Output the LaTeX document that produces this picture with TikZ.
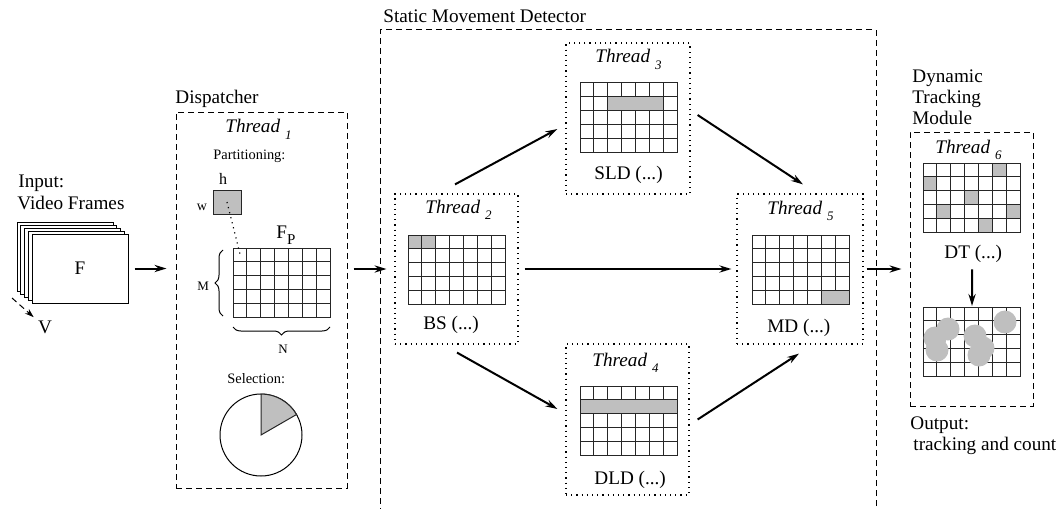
\documentclass[tikz,border=0pt]{standalone}
\usepackage{fontspec}
\setmainfont{Liberation Serif}
\usetikzlibrary{arrows.meta,calc,decorations.pathreplacing}
\definecolor{cellgray}{gray}{0.75}

\newcommand{\threadlabel}[1]{\textit{Thread}~\raisebox{-3pt}{\fontsize{6.5}{7}\selectfont\itshape #1}}
\newcommand{\cellgrid}[2]{%
  \begin{scope}[shift={(#1,#2)}, x=6.93pt, y=-6.9pt]
    \foreach \c in {1,...,6} \draw[gridline] (\c,0) -- (\c,5);
    \foreach \r in {1,...,4} \draw[gridline] (0,\r) -- (7,\r);
    \draw[gridline] (0,0) rectangle (7,5);
  \end{scope}}
\newcommand{\cellshade}[3]{%
  \begin{scope}[shift={(#1,#2)}, x=6.93pt, y=-6.9pt]
    \foreach \cA/\cB/\r in {#3}
      \filldraw[gridline, fill=cellgray] (\cA-1,\r-1) rectangle (\cB,\r);
  \end{scope}}

\begin{document}
\begin{tikzpicture}[
    x=0.5pt, y=-0.5pt,
    every node/.style = { inner sep=0pt, font=\fontsize{9.6}{11}\selectfont },
    module/.style = { draw, dash pattern=on 3pt off 2pt, line width=0.5pt },
    worker/.style = { draw, dotted, line width=0.6pt },
    gridline/.style = { draw=black!85, line width=0.5pt },
    flow/.style = { -{Stealth[length=6pt,width=3.6pt,inset=2pt]}, line width=1pt },
    vflow/.style = { -{Stealth[length=4.5pt,width=3pt,inset=1.5pt]}, line width=0.5pt, dash pattern=on 3pt off 2pt },
    small/.style = { font=\fontsize{7.2}{8}\selectfont },
    tiny/.style = { font=\fontsize{6.5}{7}\selectfont }
    ]
\useasboundingbox (0,0) rectangle (1058,508);
% input
\foreach \k in {4,3,2,1}
  \filldraw[draw=black, fill=white, line width=0.5pt] ({32-3.75*\k},{234-3*\k}) rectangle ({128-3.75*\k},{303-3*\k});
\node[draw, fill=white, line width=0.5pt, minimum width=48pt, minimum height=34.5pt] (frame) at (80,268.5) {F};
\node[anchor=base west] (input) at (18,187) {Input:};
\node[anchor=base west] (video) at (17,209) {Video Frames};
\coordinate (vtail) at (12,298);
\node (V) at (45,327) {V};
%
% dispatcher
\node[module, minimum width=85.5pt, minimum height=188pt] (disp) at (261.5,300) {};
\node[anchor=base west] (dispname) at (175,104) {Dispatcher};
\node[anchor=base west] (thread1) at (225,133) {\threadlabel{1}};
\node[small, anchor=base west] (part) at (213,159) {Partitioning:};
\node[font=\fontsize{8}{9}\selectfont, anchor=base] (h) at (223,184) {h};
\node[font=\fontsize{7}{8}\selectfont, anchor=base] (w) at (202,210) {w};
\node[draw, gridline, fill=cellgray, minimum width=14pt, minimum height=12pt] (block) at (227,202) {};
\node[anchor=base west] (fp) at (276,238) {F\raisebox{-3.3pt}{\fontsize{7.5}{8}\selectfont P}};
\cellgrid{233}{248}
\coordinate (cell) at (240,254);
\draw[dotted, line width=0.6pt] (block.center) -- (cell);
\draw[decorate, decoration={brace, amplitude=4pt}, line width=0.5pt] (223,316) -- (223,250);
\node[tiny, anchor=base west] (M) at (197,290) {M};
\draw[decorate, decoration={brace, amplitude=4pt}, line width=0.5pt] (330,327) -- (233,327);
\node[tiny, anchor=base] (N) at (283,353) {N};
\node[small, anchor=base west] (sel) at (227,383) {Selection:};
\node[draw, circle, line width=0.5pt, minimum size=41pt] (pie) at (261,435) {};
\filldraw[gridline, fill=cellgray] (pie.center) -- ++(90:20.5pt) arc[start angle=90, end angle=30, radius=20.5pt] -- cycle;
%
% static movement detector
\node[module, minimum width=248pt, minimum height=250pt] (smd) at (628,280) {};
\node[anchor=base west] (smdname) at (383,23) {Static Movement Detector};
\node[worker, minimum width=61.5pt, minimum height=75pt] (t2) at (456.5,269) {};
\node[anchor=base west] (thread2) at (425,213) {\threadlabel{2}};
\cellgrid{408}{235}
\cellshade{408}{235}{1/1/1, 2/2/1}
\node[anchor=base west] (bs) at (423,329) {BS (...)};
\node[worker, minimum width=62pt, minimum height=75.5pt] (t3) at (628,118.5) {};
\node[anchor=base west] (thread3) at (595,63) {\threadlabel{3}};
\cellgrid{580}{83}
\cellshade{580}{83}{3/6/2}
\node[anchor=base west] (sld) at (594,179) {SLD (...)};
\node[worker, minimum width=61.5pt, minimum height=75.5pt] (t4) at (627.5,419.5) {};
\node[anchor=base west] (thread4) at (592,366) {\threadlabel{4}};
\cellgrid{580}{386}
\cellshade{580}{386}{1/7/2}
\node[anchor=base west] (dld) at (594,484) {DLD (...)};
\node[worker, minimum width=63pt, minimum height=75pt] (t5) at (800,269) {};
\node[anchor=base west] (thread5) at (767,214) {\threadlabel{5}};
\cellgrid{752}{235}
\cellshade{752}{235}{6/7/5}
\node[anchor=base west] (md) at (767,332) {MD (...)};
%
% dynamic tracking module
\node[module, minimum width=61.5pt, minimum height=137pt] (dtm) at (971.5,269) {};
\node[anchor=base west] (dtmname1) at (912,83) {Dynamic};
\node[anchor=base west] (dtmname2) at (912,104) {Tracking};
\node[anchor=base west] (dtmname3) at (912,124) {Module};
\node[anchor=base west] (thread6) at (935,153) {\threadlabel{6}};
\cellgrid{923}{163}
\cellshade{923}{163}{6/6/1, 1/1/2, 4/4/3, 2/2/4, 7/7/4, 5/5/5}
\node[anchor=base west] (dt) at (944,258) {DT (...)};
\coordinate (track) at (972,306);
\cellgrid{923}{307}
\foreach \bx/\by in {935/338, 948/329, 937/350, 975/336, 983/348, 979/355, 1005/322}
  \fill[cellgray] (\bx,\by) circle[radius=5.75pt];
\node[anchor=base west] (output) at (910,429) {Output:};
\node[anchor=base west] (count) at (913,450) {tracking and count};
%
% connectors
\draw[vflow] (vtail) -- ([shift={(-4,-3)}]V.north west);
\draw[flow] ($(frame.east)+(6,0)$) -- ($(frame.east -| disp.west)+(-9,0)$);
\draw[flow] ($(disp.east |- t2.west)+(6,0)$) -- ($(smd.west |- t2.west)+(7,0)$);
\draw[flow] ([shift={(-1.5,-9)}]t2.north) -- ([shift={(-8,10.5)}]t3.west);
\draw[flow] ([shift={(0.5,8)}]t2.south) -- ([shift={(-8,-10.5)}]t4.west);
\draw[flow] ([shift={(6,0)}]t2.east) -- ([shift={(-5,0)}]t5.west);
\draw[flow] ([shift={(7,-3.5)}]t3.east) -- ([shift={(3,-9)}]t5.north);
\draw[flow] ([shift={(8,0)}]t4.east) -- ([shift={(-1,9)}]t5.south);
\draw[flow] ($(smd.east |- t5.east)+(-10,0)$) -- ($(dtm.west |- t5.east)+(-8,0)$);
\draw[flow] ([shift={(-1,7)}]dt.south) -- (track);
\end{tikzpicture}
\end{document}
